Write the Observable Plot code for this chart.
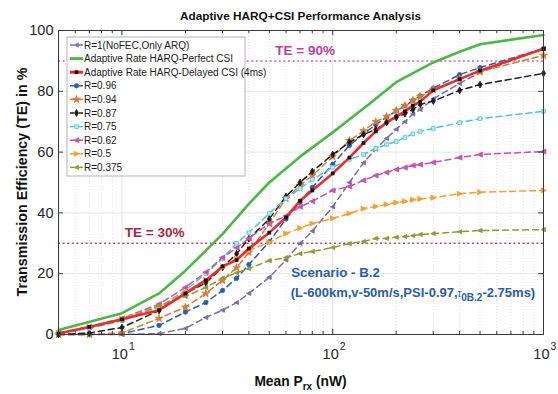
<!DOCTYPE html>
<html><head><meta charset="utf-8">
<script src="https://cdn.jsdelivr.net/npm/d3@7"></script>
<script src="https://cdn.jsdelivr.net/npm/@observablehq/plot@0.6"></script>
<style>body{margin:0;background:#fff;} svg{display:block;}</style>
</head><body><div id="chart"></div>
<script>
// ---- data ----
const X = [5, 7, 10, 15, 20, 25, 30, 35, 40, 50, 60, 70, 80, 100, 120, 140, 160, 180, 200, 220, 240, 260, 300, 400, 500, 1000];
const r1    = [0, 0, 0, 0.3, 2, 5.6, 8, 10.5, 13.5, 18.8, 24.5, 30, 34, 42, 50, 56.5, 61, 64.5, 67.5, 70, 72.5, 74, 77.5, 82.6, 86.2, 94];
const greenX = [5, 10, 15, 20, 30, 40, 50, 70, 100, 150, 200, 300, 400, 500, 1000];
const greenY = [1.5, 7, 13.5, 21, 33, 43, 50, 58.5, 66.5, 76, 83, 89.5, 93, 95.5, 98.5];
const red   = [0.3, 2.5, 5, 8, 13.5, 17.8, 22.4, 24.5, 28.3, 33.5, 38.5, 44, 47.4, 53, 58.2, 63, 66.8, 69.7, 71.7, 73.4, 75.3, 76.6, 80.3, 84, 86.8, 94];
const r096  = [0, 0, 0.3, 3, 7.4, 10.5, 14.5, 18.5, 23, 30.5, 38, 43.5, 48.4, 56, 62.2, 66, 69, 71.5, 73.5, 75.2, 77, 78.5, 81, 85.5, 87.8, 94];
const r094  = [0, 0, 0.5, 5.3, 9, 13.5, 17.8, 22, 27, 36.5, 44.7, 49, 52.3, 58.5, 63.8, 67, 70, 71.7, 73.7, 75.3, 77, 78.3, 80.6, 84.2, 86.5, 91.8];
const r087  = [0, 0.5, 2.3, 7.9, 13.5, 17, 22, 26.6, 31.5, 38, 45.4, 50, 53.6, 59.2, 63.2, 65.8, 67.4, 69.7, 71.4, 72.7, 74, 75.7, 76.8, 80.3, 82.2, 85.9];
const r075  = [0.5, 2, 4.5, 9, 14.5, 20, 25, 30, 33.5, 39.8, 44.7, 48, 51, 55, 57.6, 59.2, 61.2, 62.5, 63.5, 64.8, 66, 66.8, 67.8, 69.7, 71, 73.4];
const r062  = [0.5, 2.5, 5.3, 10, 15.5, 20.5, 25.3, 28.5, 31.6, 36.5, 39, 42, 43.8, 47.4, 48.7, 50.7, 52.3, 53.3, 54.3, 54.9, 55.6, 55.9, 56.6, 58.2, 59.2, 60.2];
const r050  = [0.5, 2.5, 5.3, 8.9, 14, 18, 22, 25, 27.6, 30.3, 33.2, 35, 36.5, 38.2, 39.8, 41.4, 42.1, 42.8, 43.4, 43.8, 44.3, 44.6, 45, 46.3, 46.8, 47.4];
const r0375 = [0.5, 2.5, 4.6, 9.5, 12.5, 15.5, 18.5, 20.3, 21.7, 24.3, 25.3, 26.6, 27.3, 28.6, 29.9, 30.6, 31.6, 31.6, 32, 32.2, 32.5, 32.9, 33.2, 33.8, 34.2, 34.5];
const yTicks = [0, 20, 40, 60, 80, 100];
const xMajor = [10, 100, 1000];
const refLines = [90, 30];
const legendNames = ["R=1(NoFEC,Only ARQ)", "Adaptive Rate HARQ-Perfect CSI", "Adaptive Rate HARQ-Delayed CSI (4ms)",
  "R=0.96", "R=0.94", "R=0.87", "R=0.75", "R=0.62", "R=0.5", "R=0.375"];

// ---- styles ----
const font = "Arial, 'Liberation Sans', Helvetica, sans-serif";
const triLeft = {draw(ctx, size){ const r = Math.sqrt(size/Math.PI)*1.25; ctx.moveTo(-r,0); ctx.lineTo(r*0.8,-r*0.85); ctx.lineTo(r*0.8,r*0.85); ctx.closePath(); }};
const triRight = {draw(ctx, size){ const r = Math.sqrt(size/Math.PI)*1.25; ctx.moveTo(r,0); ctx.lineTo(-r*0.8,-r*0.85); ctx.lineTo(-r*0.8,r*0.85); ctx.closePath(); }};
const dashedSeries = [
  {name: legendNames[0], vals: r1,    color: "#7a6ea9", symbol: triLeft, fill: "#7a6ea9", r: 2},
  {name: legendNames[3], vals: r096,  color: "#2a5cb3", symbol: "circle", fill: "#2a5cb3", r: 2.2},
  {name: legendNames[4], vals: r094,  color: "#d97a2e", symbol: "star", fill: "#d97a2e", r: 2.4},
  {name: legendNames[5], vals: r087,  color: "#1c1c1c", symbol: "diamond", fill: "#1c1c1c", r: 2.1},
  {name: legendNames[6], vals: r075,  color: "#4fc3d8", symbol: "square", fill: "#bfeaf2", r: 2.1},
  {name: legendNames[7], vals: r062,  color: "#c654a8", symbol: triLeft, fill: "#c654a8", r: 2.4},
  {name: legendNames[8], vals: r050,  color: "#f7a032", symbol: triRight, fill: "#f7a032", r: 2.4},
  {name: legendNames[9], vals: r0375, color: "#8e9a36", symbol: triLeft, fill: "#8e9a36", r: 2}
];
const dash = "6,4";
const minorTicks = [];
for (const d of [1, 10, 100]) for (let k = 2; k <= 9; k++) { const v = k*d; if (v > 5 && v < 1000 && v !== 10 && v !== 100) minorTicks.push(v); }

const marks = [
  Plot.ruleX(minorTicks, {stroke: "#d6d6d6", strokeDasharray: "1,2", strokeWidth: 0.8}),
  Plot.ruleX([10, 100], {stroke: "#e4e4e4"}),
  Plot.ruleY([20, 40, 60, 80], {stroke: "#e4e4e4"}),
  Plot.ruleY([refLines[0]], {stroke: "#d35fbe", strokeDasharray: "2,2.6", strokeWidth: 1.5}),
  Plot.ruleY([refLines[1]], {stroke: "#b8485b", strokeDasharray: "2,2.6", strokeWidth: 1.5})
];
for (const s of dashedSeries) {
  const rows = X.map((x, i) => ({x, y: s.vals[i]}));
  marks.push(Plot.line(rows, {x: "x", y: "y", stroke: s.color, strokeWidth: 1.5, strokeDasharray: dash}));
  marks.push(Plot.dot(rows, {x: "x", y: "y", symbol: s.symbol, fill: s.fill, stroke: s.color, strokeWidth: 0.8, r: s.r}));
}
const greenRows = greenX.map((x, i) => ({x, y: greenY[i]}));
marks.push(Plot.line(greenRows, {x: "x", y: "y", stroke: "#4db848", strokeWidth: 2.6}));
const redRows = X.map((x, i) => ({x, y: red[i]}));
marks.push(Plot.line(redRows, {x: "x", y: "y", stroke: "#f02a28", strokeWidth: 2.6}));
marks.push(Plot.dot(redRows, {x: "x", y: "y", symbol: "square", fill: "#111", r: 2.1}));

// frame and inward ticks
marks.push(Plot.frame({stroke: "#3a3a3a", strokeWidth: 1}));
marks.push(Plot.ruleX(xMajor, {y1: 0, y2: 1.7, stroke: "#3a3a3a"}));
marks.push(Plot.ruleX(xMajor, {y1: 98.3, y2: 100, stroke: "#3a3a3a"}));
marks.push(Plot.ruleX(minorTicks, {y1: 0, y2: 1.0, stroke: "#3a3a3a"}));
marks.push(Plot.ruleX(minorTicks, {y1: 99, y2: 100, stroke: "#3a3a3a"}));
marks.push(Plot.ruleY(yTicks, {x1: 5, x2: 5*1.055, stroke: "#3a3a3a"}));
marks.push(Plot.ruleY(yTicks, {x1: 1000/1.055, x2: 1000, stroke: "#3a3a3a"}));
// tick labels
marks.push(Plot.text(yTicks, {x: 5, y: d => d, text: d => String(d), textAnchor: "end", dx: -5, fontSize: 14.5, fill: "#262626"}));
marks.push(Plot.text(xMajor, {x: d => d, y: 0, text: () => "10", textAnchor: "end", dx: 6, dy: 20, fontSize: 14.5, fill: "#262626"}));
marks.push(Plot.text(xMajor, {x: d => d, y: 0, text: d => String(Math.round(Math.log10(d))), textAnchor: "start", dx: 7, dy: 12, fontSize: 10.5, fill: "#262626"}));
// annotations
marks.push(Plot.text(["TE = 90%"], {x: 74, y: 93.4, text: d => d, fontSize: 13.5, fontWeight: "bold", fill: "#b3449f"}));
marks.push(Plot.text(["TE = 30%"], {x: 14.3, y: 33.6, text: d => d, fontSize: 13.5, fontWeight: "bold", fill: "#a8283a"}));
marks.push(Plot.text(["Scenario - B.2"], {x: 63.5, y: 20.2, text: d => d, textAnchor: "start", fontSize: 13.3, fontWeight: "bold", fill: "#2c5cab"}));

const plot = Plot.plot({
  width: 558, height: 394,
  marginLeft: 58, marginRight: 15, marginTop: 30, marginBottom: 60,
  style: {fontFamily: font, background: "#fff", color: "#262626", overflow: "visible"},
  x: {type: "log", domain: [5, 1000], axis: null},
  y: {domain: [0, 100], axis: null},
  marks
});
document.getElementById("chart").appendChild(plot);

// rich texts (sub/superscripts) placed through the plot's scales
const sx = plot.scale("x"), sy = plot.scale("y");
const svg = d3.select(plot);
const g = svg.append("g").attr("font-family", font).attr("text-anchor", "start");
// second scenario line
const t2 = g.append("text").attr("x", sx.apply(63.5)).attr("y", sy.apply(13.8)).attr("dy", "0.35em").attr("text-anchor", "start")
  .attr("font-size", 13).attr("font-weight", "bold").attr("fill", "#2c5cab");
t2.append("tspan").text("(L-600km,v-50m/s,PSI-0.97,");
t2.append("tspan").attr("font-size", 10).attr("font-weight", "normal").attr("font-style", "italic").text("τ");
t2.append("tspan").attr("font-size", 10).attr("dy", 4).text("0B.2");
t2.append("tspan").attr("dy", -4).text("-2.75ms)");
// title
g.append("text").attr("x", (sx.range[0] + sx.range[1]) / 2).attr("y", 20).attr("text-anchor", "middle")
  .attr("font-size", 11.8).attr("font-weight", "bold").attr("fill", "#111").text("Adaptive HARQ+CSI Performance Analysis");
// x label
const xl = g.append("text").attr("x", (sx.range[0] + sx.range[1]) / 2).attr("y", 386).attr("text-anchor", "middle")
  .attr("font-size", 13.8).attr("font-weight", "bold").attr("fill", "#111");
xl.append("tspan").text("Mean P");
xl.append("tspan").attr("font-size", 10).attr("dy", 4).text("rx");
xl.append("tspan").attr("dy", -4).text(" (nW)");
// y label
g.append("text").attr("transform", `translate(27,${(sy.range[0] + sy.range[1]) / 2}) rotate(-90)`).attr("text-anchor", "middle")
  .attr("font-size", 14.3).attr("font-weight", "bold").attr("fill", "#111").text("Transmission Efficiency (TE) in %");

// legend
const lg = g.append("g");
const lx = 67, ly = 37, lw = 178, lh = 139, rowH = 13.6;
lg.append("rect").attr("x", lx).attr("y", ly).attr("width", lw).attr("height", lh).attr("fill", "#fff").attr("stroke", "#b4b4b4");
const legendStyle = {
  [legendNames[1]]: {color: "#4db848", solid: true},
  [legendNames[2]]: {color: "#f02a28", solid: true, symbol: "square", fill: "#111", r: 2.1}
};
for (const s of dashedSeries) legendStyle[s.name] = {color: s.color, solid: false, symbol: s.symbol, fill: s.fill, r: s.r};
const symTypes = {circle: d3.symbolCircle, star: d3.symbolStar, diamond: d3.symbolDiamond, square: d3.symbolSquare};
legendNames.forEach((name, i) => {
  const st = legendStyle[name];
  const cy = ly + 8 + i * rowH;
  if (st.solid) {
    lg.append("line").attr("x1", lx + 3).attr("x2", lx + 16).attr("y1", cy).attr("y2", cy).attr("stroke", st.color).attr("stroke-width", 3);
  } else {
    lg.append("line").attr("x1", lx + 3).attr("x2", lx + 7).attr("y1", cy).attr("y2", cy).attr("stroke", st.color).attr("stroke-width", 1.5);
    lg.append("line").attr("x1", lx + 12).attr("x2", lx + 16).attr("y1", cy).attr("y2", cy).attr("stroke", st.color).attr("stroke-width", 1.5);
  }
  if (st.symbol) {
    const type = typeof st.symbol === "string" ? symTypes[st.symbol] : st.symbol;
    lg.append("path").attr("d", d3.symbol(type, st.r * st.r * Math.PI)()).attr("transform", `translate(${lx + 9.5},${cy})`)
      .attr("fill", st.fill).attr("stroke", st.solid ? "none" : st.color).attr("stroke-width", 0.8);
  }
  lg.append("text").attr("x", lx + 17).attr("y", cy).attr("dy", "0.35em").attr("text-anchor", "start")
    .attr("font-size", 10).attr("fill", "#1a1a1a").text(name);
});
</script>
</body></html>
